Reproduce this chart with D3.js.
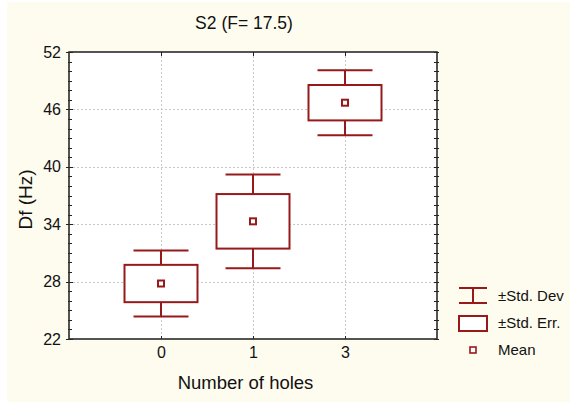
<!DOCTYPE html>
<html>
<head>
<meta charset="utf-8">
<script src="https://cdn.jsdelivr.net/npm/d3@7"></script>
<style>
  html, body { margin: 0; padding: 0; background: #ffffff; }
  svg { display: block; }
  text { font-family: "Liberation Sans", Arial, sans-serif; fill: #111; }
</style>
</head>
<body>
<svg id="chart" width="570" height="402"></svg>
<script>
// ---- data ----
const categories = ["0", "1", "3"];
const means = [27.8, 34.3, 46.7];
const stdErr = [1.95, 2.85, 1.85];
const stdDev = [3.45, 4.9, 3.4];
const yTicks = [22, 28, 34, 40, 46, 52];
const legendLabels = ["\u00B1Std. Dev", "\u00B1Std. Err.", "Mean"];
const titleText = "S2 (F= 17.5)";
const xLabel = "Number of holes";
const yLabel = "Df (Hz)";

const W = 570, H = 402;
const plot = { left: 69, right: 437, top: 52, bottom: 339 };
const red = "#961a1a";

const svg = d3.select("#chart");

// background
svg.append("rect").attr("x", 7).attr("y", 2).attr("width", W - 7).attr("height", H - 2).attr("fill", "#fefcef");

const x = d3.scalePoint().domain(categories).range([plot.left, plot.right]).padding(1);
const y = d3.scaleLinear().domain([22, 52]).range([plot.bottom, plot.top]);

// plot area
svg.append("rect").attr("x", plot.left).attr("y", plot.top)
  .attr("width", plot.right - plot.left).attr("height", plot.bottom - plot.top)
  .attr("fill", "#ffffff");

// grid
const grid = svg.append("g").attr("stroke", "#c8c8c8").attr("stroke-width", 1).attr("stroke-dasharray", "2,2");
grid.selectAll("line.h").data(yTicks.slice(1, -1)).join("line")
  .attr("x1", plot.left).attr("x2", plot.right)
  .attr("y1", d => Math.round(y(d)) + 0.5).attr("y2", d => Math.round(y(d)) + 0.5);
grid.selectAll("line.v").data(categories).join("line")
  .attr("y1", plot.top).attr("y2", plot.bottom)
  .attr("x1", d => Math.round(x(d)) + 0.5).attr("x2", d => Math.round(x(d)) + 0.5);

// minor ticks (every 1 unit) left and right
const minor = d3.range(22, 53, 1);
const tk = svg.append("g").attr("stroke", "#222").attr("stroke-width", 1);
tk.selectAll("line.ml").data(minor).join("line")
  .attr("x1", plot.left - 1).attr("x2", plot.left + 3)
  .attr("y1", d => Math.round(y(d)) + 0.5).attr("y2", d => Math.round(y(d)) + 0.5);
tk.selectAll("line.mr").data(minor).join("line")
  .attr("x1", plot.right - 3).attr("x2", plot.right + 2)
  .attr("y1", d => Math.round(y(d)) + 0.5).attr("y2", d => Math.round(y(d)) + 0.5);
tk.selectAll("line.Ml").data(yTicks).join("line")
  .attr("x1", plot.left - 3).attr("x2", plot.left + 4)
  .attr("y1", d => Math.round(y(d)) + 0.5).attr("y2", d => Math.round(y(d)) + 0.5);
tk.selectAll("line.tt").data(categories).join("line")
  .attr("y1", plot.top).attr("y2", plot.top + 4)
  .attr("x1", d => Math.round(x(d)) + 0.5).attr("x2", d => Math.round(x(d)) + 0.5);
tk.selectAll("line.bt").data(categories).join("line")
  .attr("y1", plot.bottom - 3).attr("y2", plot.bottom)
  .attr("x1", d => Math.round(x(d)) + 0.5).attr("x2", d => Math.round(x(d)) + 0.5);

// frame
svg.append("rect").attr("x", plot.left).attr("y", plot.top)
  .attr("width", plot.right - plot.left).attr("height", plot.bottom - plot.top)
  .attr("fill", "none").attr("stroke", "#2a2a2a").attr("stroke-width", 1.6);

// y axis labels
const yAxis = d3.axisLeft(y).tickValues(yTicks).tickSize(0).tickPadding(8);
const gy = svg.append("g").attr("transform", `translate(${plot.left},0)`).call(yAxis);
gy.select(".domain").remove();
gy.selectAll("text").style("font-size", "16px").style("font-family", "Liberation Sans, Arial, sans-serif").attr("fill", "#111");

// x axis labels
const xAxis = d3.axisBottom(x).tickSize(0).tickPadding(8);
const gx = svg.append("g").attr("transform", `translate(0,${plot.bottom})`).call(xAxis);
gx.select(".domain").remove();
gx.selectAll("text").style("font-size", "16px").style("font-family", "Liberation Sans, Arial, sans-serif").attr("fill", "#111");

// title and axis titles
svg.append("text").attr("x", 244).attr("y", 29).attr("text-anchor", "middle")
  .style("font-size", "17.5px").text(titleText);
svg.append("text").attr("x", 245.5).attr("y", 389).attr("text-anchor", "middle")
  .style("font-size", "18.5px").text(xLabel);
svg.append("text").attr("transform", "translate(32,199.5) rotate(-90)").attr("text-anchor", "middle")
  .style("font-size", "19px").text(yLabel);

// boxes
const boxHalf = 36.5, capHalf = 27.5, mk = 6;
const g = svg.append("g").attr("stroke", red).attr("stroke-width", 2).attr("fill", "none");
categories.forEach((c, i) => {
  const cx = x(c);
  const m = means[i], se = stdErr[i], sd = stdDev[i];
  g.append("line").attr("x1", cx).attr("x2", cx).attr("y1", y(m + sd)).attr("y2", y(m + se));
  g.append("line").attr("x1", cx).attr("x2", cx).attr("y1", y(m - se)).attr("y2", y(m - sd));
  g.append("line").attr("x1", cx - capHalf).attr("x2", cx + capHalf).attr("y1", y(m + sd)).attr("y2", y(m + sd));
  g.append("line").attr("x1", cx - capHalf).attr("x2", cx + capHalf).attr("y1", y(m - sd)).attr("y2", y(m - sd));
  g.append("rect").attr("x", cx - boxHalf).attr("y", y(m + se))
    .attr("width", 2 * boxHalf).attr("height", y(m - se) - y(m + se)).attr("fill", "#fff");
  g.append("rect").attr("x", cx - mk / 2).attr("y", y(m) - mk / 2).attr("width", mk).attr("height", mk).attr("fill", "#fff");
});

// legend
const lg = svg.append("g");
const lx = 459, lw = 28;
lg.append("line").attr("x1", lx).attr("x2", lx + lw).attr("y1", 288).attr("y2", 288).attr("stroke", red).attr("stroke-width", 2);
lg.append("line").attr("x1", lx).attr("x2", lx + lw).attr("y1", 303).attr("y2", 303).attr("stroke", red).attr("stroke-width", 2);
lg.append("line").attr("x1", lx + lw / 2).attr("x2", lx + lw / 2).attr("y1", 288).attr("y2", 303).attr("stroke", red).attr("stroke-width", 2);
lg.append("rect").attr("x", lx).attr("y", 316).attr("width", lw).attr("height", 15).attr("fill", "#fff").attr("stroke", red).attr("stroke-width", 2);
lg.append("rect").attr("x", lx + lw / 2 - 3).attr("y", 347).attr("width", 6).attr("height", 6).attr("fill", "#fff").attr("stroke", red).attr("stroke-width", 1.6);
const ly = [296, 323, 350];
lg.selectAll("text").data(legendLabels).join("text")
  .attr("x", 498).attr("y", (d, i) => ly[i]).attr("dy", "0.35em")
  .style("font-size", "15px").text(d => d);
</script>
</body>
</html>
